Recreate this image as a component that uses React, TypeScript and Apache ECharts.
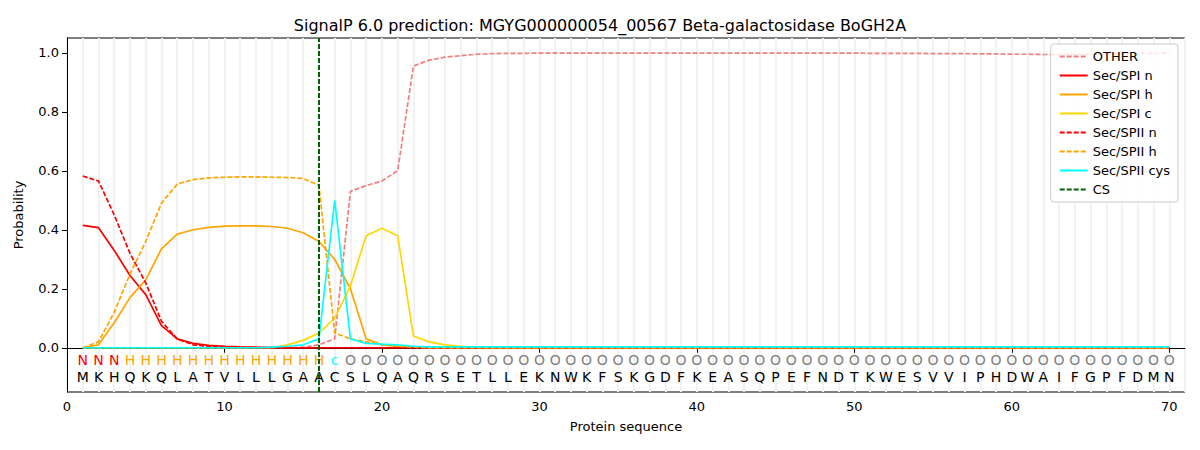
import React, { useEffect, useRef } from "react";
import * as echarts from "echarts";

const sequence = "MKHQKQLATVLLLGAACSLQAQRSETLLEKNWKFSKGDFKEASQPEFNDTKWESVVIPHDWAIFGPFDMN".split("");
const regionLabels = [
  ..."NNN".split(""),
  ..."HHHHHHHHHHHHH".split(""),
  "c",
  ...Array(53).fill("O"),
];
const regionColors: Record<string, string> = { N: "#ff0000", H: "#ffa500", c: "#00ffff", O: "#808080" };

const fill = (vals: number[], rest: number) => [...vals, ...Array(70 - vals.length).fill(rest)];

const other = fill(
  [0, 0, 0, 0, 0, 0, 0, 0, 0, 0, 0, 0, 0, 0, 0.002, 0.01, 0.03, 0.53, 0.55, 0.565, 0.6, 0.955, 0.975, 0.985, 0.99, 0.995, 0.997, 0.998, 0.998, 0.999,
   0.999, 0.999, 0.999, 0.999, 0.999, 0.999, 0.999, 0.999, 0.999, 0.999, 0.999, 0.999, 0.999, 0.999, 0.999, 0.999, 0.999, 0.999, 0.999, 0.999,
   0.998, 0.998, 0.998, 0.998, 0.997, 0.997, 0.997, 0.996, 0.996, 0.995, 0.995, 0.994, 0.994, 0.995, 0.995, 0.996, 0.997, 0.998, 0.998],
  0.999
);
const spiN = fill([0.415, 0.407, 0.33, 0.245, 0.18, 0.075, 0.03, 0.015, 0.008, 0.005, 0.003, 0.002, 0.001], 0);
const spiH = fill([0, 0.01, 0.085, 0.17, 0.23, 0.335, 0.385, 0.4, 0.408, 0.412, 0.413, 0.413, 0.411, 0.405, 0.39, 0.36, 0.3, 0.2, 0.03, 0.01, 0.005, 0.003], 0);
const spiC = fill([0, 0, 0, 0, 0, 0, 0, 0, 0, 0, 0, 0, 0, 0.01, 0.025, 0.05, 0.1, 0.21, 0.38, 0.405, 0.38, 0.04, 0.02, 0.01, 0.005, 0.002], 0);
const spiiN = fill([0.582, 0.565, 0.45, 0.32, 0.22, 0.09, 0.03, 0.01, 0.005, 0.003, 0.002], 0);
const spiiH = fill([0, 0.02, 0.12, 0.25, 0.36, 0.49, 0.555, 0.57, 0.576, 0.578, 0.579, 0.579, 0.578, 0.577, 0.574, 0.55, 0.05, 0.03, 0.02, 0.01, 0.005, 0.002], 0);
const spiiCys = fill([0, 0, 0, 0, 0, 0, 0, 0, 0, 0, 0, 0, 0.002, 0.005, 0.01, 0.03, 0.5, 0.03, 0.015, 0.012, 0.01, 0.005], 0.003);
const csPos = 16;
const yTicks = [0, 0.2, 0.4, 0.6, 0.8, 1.0];

const pts = (arr: number[]) => arr.map((v, i) => [i + 1, v]);

const App: React.FC = () => {
  const ref = useRef<HTMLDivElement>(null);

  useEffect(() => {
    if (!ref.current) return;
    const chart = echarts.init(ref.current, null, { renderer: "svg" });
    const font = "DejaVu Sans";
    const line = (name: string, data: number[], color: string, dashed: boolean) => ({
      name,
      type: "line",
      data: pts(data),
      showSymbol: false,
      symbol: "none",
      lineStyle: { color, width: 1.7, type: dashed ? [5, 2] : "solid" },
      itemStyle: { color },
      z: 3,
    });
    const letterLabel = {
      show: true,
      position: "inside",
      fontSize: 14,
      textBorderWidth: 0,
      opacity: 1,
      fontFamily: font,
    };
    chart.setOption({
      animation: false,
      textStyle: { fontFamily: font },
      title: {
        text: "SignalP 6.0 prediction: MGYG000000054_00567 Beta-galactosidase BoGH2A",
        left: "center",
        top: 12,
        textStyle: { fontSize: 16, fontWeight: "normal", color: "#000", fontFamily: font },
      },
      grid: { left: 67, right: 15, top: 38, bottom: 58, show: true, borderColor: "#000", borderWidth: 1 },
      legend: {
        orient: "vertical",
        right: 22,
        top: 44,
        backgroundColor: "rgba(255,255,255,0.8)",
        borderColor: "#ccc",
        borderWidth: 1,
        borderRadius: 3,
        padding: [6, 8],
        itemGap: 6,
        itemWidth: 28,
        itemHeight: 10,
        itemStyle: { opacity: 0 },
        textStyle: { fontSize: 13, color: "#000" },
        data: ["OTHER", "Sec/SPI n", "Sec/SPI h", "Sec/SPI c", "Sec/SPII n", "Sec/SPII h", "Sec/SPII cys", "CS"],
      },
      xAxis: [
        {
          type: "value",
          min: 0,
          max: 71,
          interval: 10,
          name: "Protein sequence",
          nameLocation: "middle",
          nameGap: 28,
          nameTextStyle: { fontSize: 13, color: "#000" },
          axisLine: { lineStyle: { color: "#000" } },
          axisTick: { lineStyle: { color: "#000" } },
          axisLabel: { color: "#000", fontSize: 13 },
          splitLine: { show: false },
        },
        {
          type: "value",
          min: 0,
          max: 71,
          interval: 1,
          position: "top",
          axisLine: { show: false },
          axisTick: { show: false },
          axisLabel: { show: false },
          splitLine: { show: true, lineStyle: { color: "#f2f2f2", width: 2 } },
        },
      ],
      yAxis: {
        type: "value",
        min: -0.15,
        max: 1.05,
        name: "Probability",
        nameLocation: "middle",
        nameGap: 42,
        nameTextStyle: { fontSize: 13, color: "#000" },
        axisLine: { show: true, lineStyle: { color: "#000" } },
        axisTick: { show: true, customValues: yTicks, lineStyle: { color: "#000" } },
        axisLabel: {
          color: "#000",
          fontSize: 13,
          customValues: yTicks,
          formatter: (v: number) => v.toFixed(1),
        },
        splitLine: { show: false },
      },
      series: [
        line("OTHER", other, "#f08080", true),
        line("Sec/SPI n", spiN, "#ff0000", false),
        line("Sec/SPI h", spiH, "#ffa500", false),
        line("Sec/SPI c", spiC, "#ffd700", false),
        line("Sec/SPII n", spiiN, "#ff0000", true),
        line("Sec/SPII h", spiiH, "#ffa500", true),
        line("Sec/SPII cys", spiiCys, "#00ffff", false),
        {
          name: "CS",
          type: "line",
          data: [],
          symbol: "none",
          lineStyle: { color: "#006400", width: 1.7, type: [5, 2] },
          itemStyle: { color: "#006400" },
          markLine: {
            symbol: "none",
            silent: true,
            label: { show: false },
            lineStyle: { color: "#006400", width: 2, type: [5, 2] },
            data: [{ xAxis: csPos }],
          },
        },
        {
          type: "scatter",
          symbolSize: 0,
          silent: true,
          data: regionLabels.map((l, i) => ({
            value: [i + 1, -0.04, l],
            label: { color: regionColors[l] },
          })),
          label: { ...letterLabel, formatter: (p: any) => p.value[2] },
        },
        {
          type: "scatter",
          symbolSize: 0,
          silent: true,
          data: sequence.map((l, i) => [i + 1, -0.1, l]),
          label: { ...letterLabel, color: "#000", formatter: (p: any) => p.value[2] },
        },
      ],
    });
    return () => chart.dispose();
  }, []);

  return <div ref={ref} style={{ width: 1200, height: 450, margin: -8 }} />;
};

export default App;
